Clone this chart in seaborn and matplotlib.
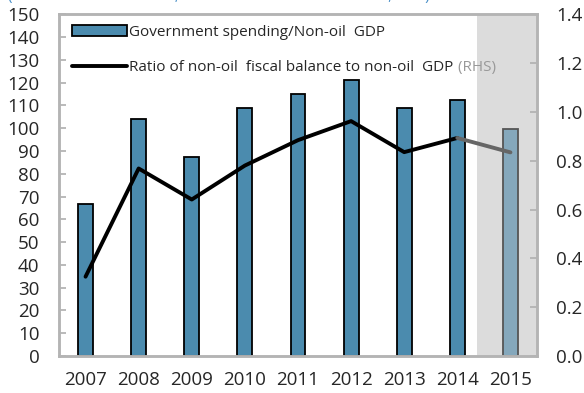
import matplotlib
matplotlib.use("Agg")
import matplotlib.pyplot as plt
import seaborn as sns
import pandas as pd
from matplotlib.patches import Patch
from matplotlib.lines import Line2D

# ── Data ────────────────────────────────────────────────────────────────────
years    = ["2007", "2008", "2009", "2010", "2011", "2012", "2013", "2014", "2015"]
spending = [66.5, 104.2, 87.4, 109.0, 114.8, 121.0, 109.0, 112.3, 99.4]
ratio    = [0.325, 0.768, 0.641, 0.780, 0.884, 0.962, 0.835, 0.893, 0.834]

left_ticks  = list(range(0, 151, 10))
right_ticks = [0.0, 0.2, 0.4, 0.6, 0.8, 1.0, 1.2, 1.4]

BAR_BLUE   = "#4b8bae"
BAR_PROJ   = "#85a8bc"
SHADE      = "#dcdcdc"
SPINE_GREY = "#b4b4b4"

sns.set_style("white")
plt.rcParams["font.family"] = ["Open Sans", "DejaVu Sans"]

df = pd.DataFrame({"year": years, "spending": spending})

fig = plt.figure(figsize=(5.84, 3.93), dpi=100)
ax = fig.add_axes([0.101, 0.094, 0.8185, 0.870])

# projection shading (2015)
ax.axvspan(len(years) - 1.63, len(years) - 0.5, color=SHADE, zorder=0, lw=0)

palette = [BAR_BLUE] * (len(years) - 1) + [BAR_PROJ]
sns.barplot(data=df, x="year", y="spending", hue="year", palette=palette,
            legend=False, width=0.28, saturation=1, ax=ax, zorder=2)
bars = [b for c in ax.containers for b in c]
for i, p in enumerate(bars):
    p.set_edgecolor("#555555" if i == len(years) - 1 else "black")
    p.set_linewidth(1.3)

ax.set_xlim(-0.5, len(years) - 0.5)
ax.set_ylim(0, 150)
ax.set_yticks(left_ticks)
ax.set_xlabel("")
ax.set_ylabel("")
ax.set_xticks([i + 0.5 for i in range(len(years) - 1)], minor=True)
ax.set_xticks(range(len(years)))
ax.set_xticklabels(years)
ax.tick_params(axis="x", which="major", length=0, pad=11, labelsize=13.5)
ax.tick_params(axis="x", which="minor", direction="in", length=5,
               color=SPINE_GREY, width=1.3)
ax.tick_params(axis="y", direction="in", length=5, color=SPINE_GREY,
               width=1.3, labelsize=13.5, pad=14)
for s in ax.spines.values():
    s.set_color(SPINE_GREY)
    s.set_linewidth(1.8)

# ── Ratio line on right axis ────────────────────────────────────────────────
ax2 = ax.twinx()
line_df = pd.DataFrame({"pos": range(len(years)), "ratio": ratio})
sns.lineplot(data=line_df.iloc[:-1], x="pos", y="ratio", color="black",
             lw=2.8, ax=ax2, zorder=3)
sns.lineplot(data=line_df.iloc[-2:], x="pos", y="ratio", color="#666666",
             lw=2.8, ax=ax2, zorder=3)
ax2.set_ylim(0, 1.4)
ax2.set_yticks(right_ticks)
ax2.set_yticklabels([f"{t:.1f}" for t in right_ticks])
ax2.set_xlim(-0.5, len(years) - 0.5)
ax2.set_xlabel("")
ax2.set_ylabel("")
ax2.tick_params(axis="y", direction="in", length=5, color=SPINE_GREY,
                width=1.3, labelsize=13.5, pad=14)
for s in ax2.spines.values():
    s.set_color(SPINE_GREY)
    s.set_linewidth(1.8)

# ── Legend ──────────────────────────────────────────────────────────────────
handles = [
    Patch(facecolor=BAR_BLUE, edgecolor="black", linewidth=1.3),
    Line2D([0], [0], color="black", lw=2.8),
]
labels = ["Government spending/Non-oil  GDP",
          "Ratio of non-oil  fiscal balance to non-oil  GDP"]
leg = ax2.legend(handles, labels, loc="upper left", frameon=False,
                 bbox_to_anchor=(0.005, 1.0), fontsize=11, handlelength=3.6,
                 handletextpad=0.15, labelspacing=1.35, borderaxespad=0.3)
ax2.annotate(" (RHS)", xy=(1, 0), xycoords=leg.get_texts()[1],
             va="bottom", ha="left", fontsize=11, color="#999999", zorder=10)

# cut-off subtitle at the very top
fig.text(0.014, 1.0, "(Percent of non-oil GDP; ratio of non-oil fiscal balance, RHS)",
         color="#4a90c8", fontsize=11, va="baseline", ha="left")

fig.savefig("out.png", dpi=100)
